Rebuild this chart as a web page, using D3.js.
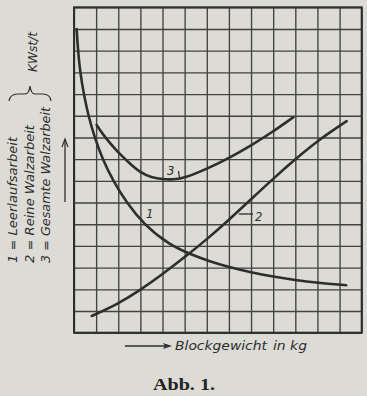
<!DOCTYPE html>
<html><head><meta charset="utf-8">
<script src="https://cdn.jsdelivr.net/npm/d3@7"></script>
<style>html,body{margin:0;padding:0;background:#dcdbd5;}svg{display:block;}</style>
</head><body>
<svg id="c" width="367" height="396"></svg>
<script>
// grid units (no numeric scale printed on the original)
const xCells = 13, yCells = 15;
// Curve 1: Leerlaufsarbeit
const c1x = [0.12,0.18,0.28,0.44,0.65,0.93,1.29,1.77,2.37,3.15,4.3,5.25,6.1,7,8,9,10,11,12.3];
const c1y = [14.0,13.0,12.0,11.0,10.0,9.0,8.0,7.0,6.0,5.0,4.05,3.62,3.3,3.02,2.78,2.58,2.42,2.3,2.19];
// Curve 2: Reine Walzarbeit
const c2x = [0.8,2.0,3.0,4.0,5.0,6.0,7.0,8.0,9.0,10.0,11.1,12.32];
const c2y = [0.77,1.33,1.97,2.7,3.48,4.3,5.2,6.15,7.1,8.0,8.92,9.75];
// Curve 3: Gesamte Walzarbeit
const c3x = [1.02,1.4,2.0,2.5,3.0,3.5,4.0,4.5,5.0,6.0,7.0,8.0,9.0,9.91];
const c3y = [9.58,9.0,8.3,7.82,7.38,7.16,7.07,7.06,7.13,7.55,8.05,8.63,9.27,9.93];
const legendLines = ["1 = Leerlaufsarbeit","2 = Reine Walzarbeit","3 = Gesamte Walzarbeit"];
const unitLabel = "KWst/t";
const xLabel = ["Blockgewicht","in kg"];
const caption = "Abb. 1.";

const svg = d3.select("#c");
const L=74, R=361.7, T=7.3, B=332.7;
const x = d3.scaleLinear().domain([0,xCells]).range([L,R]);
const y = d3.scaleLinear().domain([0,yCells]).range([B,T]);
const ink = "#2e2e2e";

svg.append("rect").attr("width",367).attr("height",396).attr("fill","#dcdbd5");

// grid
const gx = svg.append("g").attr("transform",`translate(0,${B})`)
  .call(d3.axisBottom(x).tickValues(d3.range(0,xCells+1)).tickSize(-(B-T)).tickFormat(""));
const gy = svg.append("g").attr("transform",`translate(${L},0)`)
  .call(d3.axisLeft(y).tickValues(d3.range(0,yCells+1)).tickSize(-(R-L)).tickFormat(""));
[gx,gy].forEach(g=>{
  g.select(".domain").remove();
  g.selectAll("line").attr("stroke","#424242").attr("stroke-width",1.35);
});
svg.append("rect").attr("x",L).attr("y",T).attr("width",R-L).attr("height",B-T)
  .attr("fill","none").attr("stroke",ink).attr("stroke-width",2);

// curves
const line = d3.line().x(d=>x(d[0])).y(d=>y(d[1])).curve(d3.curveBasis);
[[c1x,c1y],[c2x,c2y],[c3x,c3y]].forEach(([xs,ys])=>{
  svg.append("path").datum(xs.map((v,i)=>[v,ys[i]])).attr("d",line)
    .attr("fill","none").attr("stroke",ink).attr("stroke-width",2.6).attr("stroke-linecap","round");
});

const fam = "'DejaVu Sans Condensed','DejaVu Sans',sans-serif";
function lab(t,px,py,fs){
  return svg.append("text").attr("x",px).attr("y",py).text(t)
    .attr("font-family",fam).attr("font-style","oblique").attr("font-size",fs).attr("fill",ink);
}
// curve labels
lab("3",167,174.5,13);
svg.append("line").attr("x1",178.5).attr("y1",171).attr("x2",179.5).attr("y2",178).attr("stroke",ink).attr("stroke-width",1.2);
lab("1",146,218,13);
lab("2",255,221,13);
svg.append("line").attr("x1",x(7.45)).attr("y1",214).attr("x2",253).attr("y2",214).attr("stroke",ink).attr("stroke-width",1.3);

// left rotated legend
const lens=[126,138,156], bx=[17,33.5,50];
legendLines.forEach((t,i)=>{
  svg.append("text").attr("transform",`translate(${bx[i]},263) rotate(-90)`).text(t)
    .attr("font-family",fam).attr("font-style","oblique").attr("font-size",12).attr("fill",ink)
    .attr("textLength",lens[i]).attr("lengthAdjust","spacingAndGlyphs");
});
svg.append("text").attr("transform","translate(37,72) rotate(-90)").text(unitLabel)
  .attr("font-family",fam).attr("font-style","oblique").attr("font-size",12).attr("fill",ink)
  .attr("textLength",40).attr("lengthAdjust","spacingAndGlyphs");
// brace
svg.append("path").attr("d","M9,101 Q10,94 18,94 L25,94 Q29,94 30,86 Q31,94 35,94 L43,94 Q50,94 51,101")
  .attr("fill","none").attr("stroke",ink).attr("stroke-width",1.2);
// up arrow
svg.append("line").attr("x1",65).attr("y1",202).attr("x2",65).attr("y2",140).attr("stroke",ink).attr("stroke-width",1.3);
svg.append("path").attr("d","M62,147 L65,139 L68,147").attr("fill","none").attr("stroke",ink).attr("stroke-width",1.2);

// bottom arrow + label
svg.append("line").attr("x1",125).attr("y1",346).attr("x2",166).attr("y2",346).attr("stroke",ink).attr("stroke-width",1.3);
svg.append("path").attr("d","M172,346 L163,343 L165,346 L163,349 Z").attr("fill",ink);
lab(xLabel[0],175,350,13).attr("textLength",92).attr("lengthAdjust","spacingAndGlyphs");
lab(xLabel[1],273,350,13).attr("textLength",34).attr("lengthAdjust","spacingAndGlyphs");

// caption
svg.append("text").attr("x",153).attr("y",390).text(caption)
  .attr("font-family","'Liberation Serif','DejaVu Serif',serif").attr("font-weight","bold")
  .attr("font-size",17).attr("fill","#222").attr("textLength",62).attr("lengthAdjust","spacingAndGlyphs");
</script>
</body></html>
